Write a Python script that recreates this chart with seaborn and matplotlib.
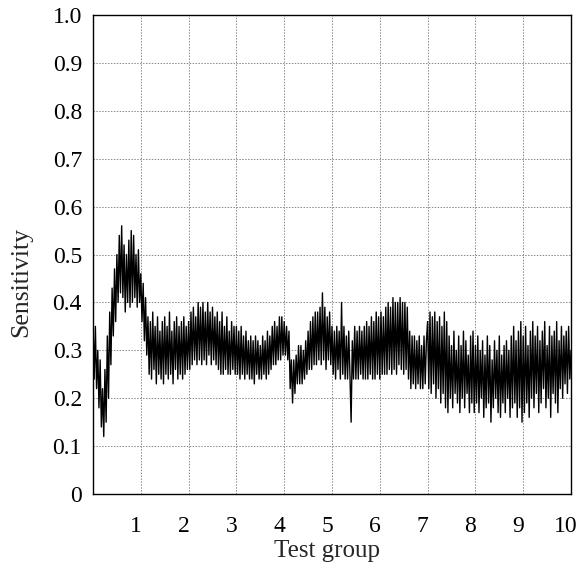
import numpy as np
import pandas as pd
import matplotlib
matplotlib.use("Agg")
import matplotlib.pyplot as plt
import matplotlib.transforms as mtransforms
import seaborn as sns

# sensitivity readings, 40 samples per test group (step 0.025)
group0 = [0.36, 0.24, 0.35, 0.22, 0.30, 0.18, 0.28, 0.14, 0.22, 0.12,
          0.26, 0.15, 0.33, 0.20, 0.38, 0.27, 0.43, 0.33, 0.47, 0.36,
          0.50, 0.40, 0.54, 0.42, 0.56, 0.41, 0.52, 0.38, 0.50, 0.40,
          0.53, 0.39, 0.55, 0.40, 0.54, 0.41, 0.50, 0.39, 0.51, 0.40]
group1 = [0.46, 0.36, 0.44, 0.32, 0.41, 0.29, 0.37, 0.25, 0.36, 0.24,
          0.38, 0.26, 0.35, 0.23, 0.37, 0.25, 0.34, 0.24, 0.36, 0.23,
          0.37, 0.25, 0.35, 0.24, 0.38, 0.25, 0.34, 0.23, 0.36, 0.26,
          0.37, 0.24, 0.35, 0.25, 0.36, 0.24, 0.37, 0.25, 0.35, 0.26]
group2 = [0.36, 0.26, 0.38, 0.27, 0.39, 0.28, 0.37, 0.27, 0.40, 0.28,
          0.39, 0.27, 0.40, 0.28, 0.38, 0.27, 0.40, 0.29, 0.38, 0.27,
          0.39, 0.28, 0.37, 0.27, 0.38, 0.26, 0.36, 0.25, 0.38, 0.25,
          0.35, 0.26, 0.37, 0.25, 0.34, 0.25, 0.36, 0.26, 0.35, 0.25]
group3 = [0.35, 0.25, 0.34, 0.24, 0.35, 0.25, 0.33, 0.24, 0.34, 0.25,
          0.32, 0.24, 0.33, 0.24, 0.32, 0.23, 0.33, 0.25, 0.32, 0.24,
          0.31, 0.24, 0.33, 0.25, 0.32, 0.24, 0.34, 0.25, 0.33, 0.26,
          0.35, 0.27, 0.36, 0.27, 0.35, 0.28, 0.37, 0.28, 0.37, 0.29]
group4 = [0.36, 0.29, 0.35, 0.28, 0.34, 0.22, 0.28, 0.19, 0.28, 0.21,
          0.29, 0.23, 0.31, 0.23, 0.31, 0.23, 0.30, 0.24, 0.32, 0.25,
          0.34, 0.26, 0.36, 0.26, 0.37, 0.27, 0.38, 0.27, 0.38, 0.28,
          0.39, 0.27, 0.42, 0.28, 0.39, 0.26, 0.37, 0.28, 0.38, 0.27]
group5 = [0.35, 0.25, 0.34, 0.24, 0.35, 0.26, 0.34, 0.24, 0.40, 0.25,
          0.35, 0.24, 0.33, 0.24, 0.34, 0.25, 0.15, 0.32, 0.24, 0.35,
          0.24, 0.34, 0.24, 0.35, 0.25, 0.34, 0.24, 0.35, 0.24, 0.36,
          0.24, 0.35, 0.25, 0.37, 0.24, 0.36, 0.24, 0.38, 0.25, 0.37]
group6 = [0.24, 0.38, 0.25, 0.37, 0.25, 0.39, 0.25, 0.40, 0.26, 0.39,
          0.25, 0.41, 0.26, 0.40, 0.25, 0.40, 0.27, 0.41, 0.26, 0.40,
          0.25, 0.40, 0.26, 0.39, 0.24, 0.34, 0.22, 0.33, 0.23, 0.33,
          0.22, 0.32, 0.23, 0.33, 0.22, 0.31, 0.22, 0.33, 0.23, 0.32]
group7 = [0.36, 0.22, 0.38, 0.21, 0.37, 0.23, 0.38, 0.20, 0.36, 0.22,
          0.37, 0.19, 0.35, 0.21, 0.38, 0.18, 0.36, 0.17, 0.33, 0.20,
          0.31, 0.18, 0.34, 0.21, 0.30, 0.19, 0.33, 0.17, 0.31, 0.20,
          0.34, 0.18, 0.32, 0.21, 0.29, 0.17, 0.33, 0.19, 0.34, 0.17]
group8 = [0.31, 0.19, 0.33, 0.17, 0.30, 0.20, 0.32, 0.16, 0.29, 0.18,
          0.33, 0.19, 0.31, 0.15, 0.28, 0.18, 0.32, 0.20, 0.30, 0.17,
          0.33, 0.16, 0.29, 0.19, 0.31, 0.17, 0.32, 0.20, 0.30, 0.16,
          0.33, 0.18, 0.35, 0.19, 0.32, 0.16, 0.34, 0.18, 0.36, 0.15]
group9 = [0.33, 0.17, 0.35, 0.19, 0.31, 0.16, 0.34, 0.20, 0.36, 0.18,
          0.33, 0.21, 0.35, 0.17, 0.32, 0.19, 0.34, 0.22, 0.36, 0.18,
          0.31, 0.20, 0.35, 0.16, 0.33, 0.21, 0.34, 0.19, 0.36, 0.17,
          0.32, 0.22, 0.35, 0.20, 0.33, 0.23, 0.34, 0.21, 0.35, 0.24,
          0.30]

x_ticks = [1, 2, 3, 4, 5, 6, 7, 8, 9, 10]
y_ticks = [0, 0.1, 0.2, 0.3, 0.4, 0.5, 0.6, 0.7, 0.8, 0.9, 1.0]
y_labels = ["0", "0.1", "0.2", "0.3", "0.4", "0.5", "0.6", "0.7", "0.8", "0.9", "1.0"]

sens = group0 + group1 + group2 + group3 + group4 + group5 + group6 + group7 + group8 + group9
df = pd.DataFrame({"x": np.arange(len(sens)) * 0.025, "sens": sens})

sns.set_style("white")
plt.rcParams["font.family"] = ["Liberation Serif", "DejaVu Serif"]

fig = plt.figure(figsize=(5.79, 5.67), dpi=100)
ax = fig.add_axes([0.1606, 0.1287, 0.8256, 0.8448])
sns.lineplot(data=df, x="x", y="sens", color="black", linewidth=1.0, ax=ax)

ax.set_xlim(0, 10)
ax.set_ylim(0, 1.0)
ax.set_xticks(x_ticks)
ax.set_xticklabels([str(t) for t in x_ticks])
ax.set_yticks(y_ticks)
ax.set_yticklabels(y_labels)
ax.grid(True, color="#888888", linestyle=(0, (1.5, 1.5)), linewidth=0.7)
ax.tick_params(axis="both", length=0, labelsize=17, colors="black")
ax.tick_params(axis="x", pad=16)
ax.tick_params(axis="y", pad=8)
offset = mtransforms.ScaledTranslation(-5 / 100, 0, fig.dpi_scale_trans)
for lab in ax.get_xticklabels():
    lab.set_transform(lab.get_transform() + offset)
for sp in ax.spines.values():
    sp.set_color("black")
    sp.set_linewidth(1.0)
ax.set_xlabel("Test group", fontsize=18)
ax.set_ylabel("Sensitivity", fontsize=18.5)
ax.xaxis.set_label_coords(0.49, -0.096)
ax.yaxis.set_label_coords(-0.128, 0.443)

fig.savefig("out.png", dpi=100)
plt.close()
